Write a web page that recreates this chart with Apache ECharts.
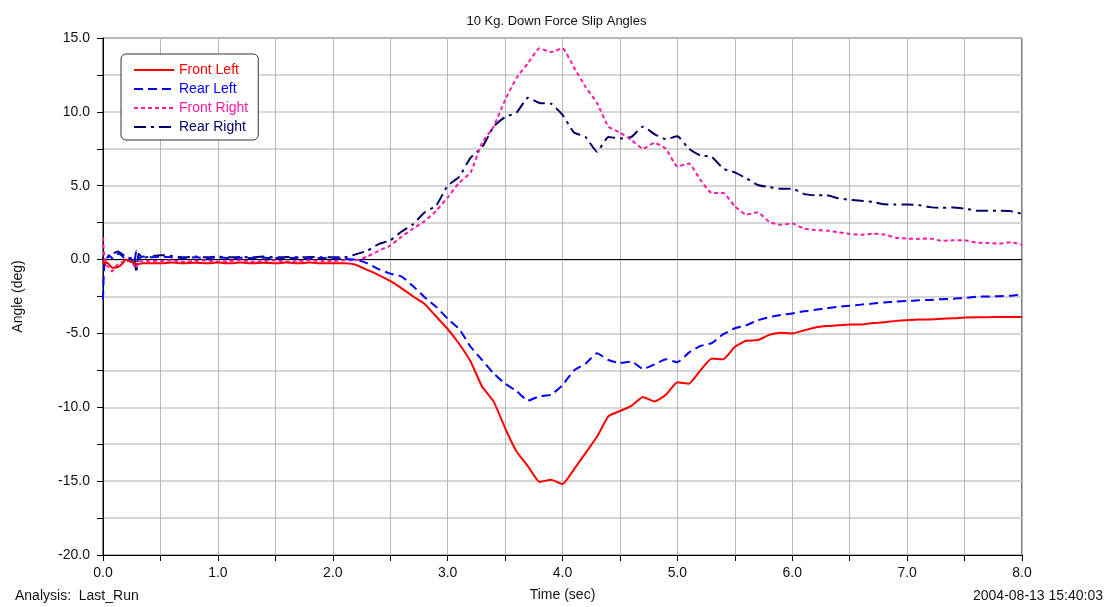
<!DOCTYPE html>
<html>
<head>
<meta charset="utf-8">
<script src="https://cdn.jsdelivr.net/npm/echarts@6/dist/echarts.min.js"></script>
<style>
html,body{margin:0;padding:0;background:#fff;}
#chart{width:1113px;height:607px;}
</style>
</head>
<body>
<div id="chart"></div>
<script>
var titleText = '10 Kg. Down Force Slip Angles';
var seriesNames = ['Front Left', 'Rear Left', 'Front Right', 'Rear Right'];

var time = [0, 0.01, 0.03, 0.05, 0.08, 0.1, 0.13, 0.16, 0.2, 0.24, 0.27, 0.29, 0.31, 0.35, 0.4,
  0.5, 0.6, 0.7, 0.8, 0.9, 1.0, 1.1, 1.2, 1.3, 1.4, 1.5, 1.6, 1.7, 1.8, 1.9,
  2.0, 2.1, 2.2, 2.3, 2.4, 2.5, 2.6, 2.7, 2.8, 2.9,
  3.0, 3.1, 3.2, 3.3, 3.4, 3.5, 3.6, 3.7, 3.8, 3.9,
  4.0, 4.1, 4.2, 4.3, 4.4, 4.5, 4.6, 4.7, 4.8, 4.9,
  5.0, 5.1, 5.2, 5.3, 5.4, 5.5, 5.6, 5.7, 5.8, 5.9,
  6.0, 6.1, 6.2, 6.3, 6.4, 6.5, 6.6, 6.7, 6.8, 6.9,
  7.0, 7.1, 7.2, 7.3, 7.4, 7.5, 7.6, 7.7, 7.8, 7.9, 8.0];

var frontLeft = [0, -0.3, -0.2, -0.3, -0.55, -0.55, -0.5, -0.35, 0.0, -0.15, -0.2, -0.3, -0.3, -0.25, -0.25,
  -0.25, -0.2, -0.25, -0.22, -0.25, -0.2, -0.25, -0.2, -0.25, -0.22, -0.25, -0.2, -0.25, -0.2, -0.25,
  -0.25, -0.25, -0.35, -0.7, -1.05, -1.45, -1.95, -2.5, -3.0, -3.85,
  -4.7, -5.7, -6.9, -8.6, -9.6, -11.4, -13.0, -14.0, -15.05, -14.9,
  -15.2, -14.2, -13.1, -12.0, -10.6, -10.25, -9.9, -9.3, -9.6, -9.15,
  -8.3, -8.4, -7.5, -6.7, -6.75, -5.9, -5.5, -5.45, -5.1, -4.95,
  -5.0, -4.8, -4.6, -4.5, -4.45, -4.4, -4.4, -4.3, -4.25, -4.15,
  -4.1, -4.05, -4.05, -4.0, -3.98, -3.92, -3.9, -3.9, -3.88, -3.88, -3.88];

var rearLeft = [-2.7, -0.5, 0.0, 0.3, 0.1, 0.3, 0.4, 0.3, 0.0, 0.1, -0.3, 0.6, 0.1, 0.2, 0.15,
  0.2, 0.15, 0.1, 0.15, 0.1, 0.15, 0.1, 0.12, 0.1, 0.12, 0.1, 0.1, 0.12, 0.1, 0.1,
  0.1, 0.05, 0.0, -0.25, -0.65, -0.95, -1.15, -1.8, -2.55, -3.2,
  -4.0, -4.7, -5.9, -6.8, -7.7, -8.4, -8.9, -9.55, -9.25, -9.15,
  -8.5, -7.5, -7.05, -6.35, -6.8, -7.0, -6.9, -7.4, -7.1, -6.75,
  -6.95, -6.3, -5.85, -5.65, -5.05, -4.65, -4.45, -4.1, -3.9, -3.75,
  -3.65, -3.5, -3.4, -3.3, -3.2, -3.12, -3.05, -2.98, -2.9, -2.85,
  -2.8, -2.76, -2.73, -2.68, -2.65, -2.6, -2.52, -2.5, -2.48, -2.45, -2.37];

var frontRight = [1.5, 0.3, -0.4, -0.5, -0.8, -0.6, -0.3, -0.2, -0.1, -0.1, -0.4, -0.6, -0.1, -0.15, -0.1,
  -0.1, -0.05, -0.15, -0.1, -0.05, -0.15, -0.1, -0.05, -0.15, -0.1, -0.05, -0.15, -0.1, -0.05, -0.1,
  -0.1, -0.05, -0.05, 0.2, 0.6, 0.95, 1.55, 2.1, 2.6, 3.3,
  4.2, 5.2, 5.9, 7.9, 9.0, 10.8, 12.3, 13.3, 14.3, 14.05,
  14.3, 13.0, 11.7, 10.6, 9.0, 8.6, 8.1, 7.5, 7.9, 7.5,
  6.3, 6.5, 5.4, 4.5, 4.5, 3.6, 3.05, 3.2, 2.55, 2.35,
  2.45, 2.1, 2.0, 1.96, 1.85, 1.74, 1.68, 1.75, 1.7, 1.48,
  1.42, 1.4, 1.43, 1.27, 1.3, 1.3, 1.15, 1.12, 1.08, 1.17, 1.02];

var rearRight = [0.2, -0.4, -0.1, 0.2, 0.3, 0.45, 0.55, 0.4, 0.2, 0.1, 0.2, -0.9, 0.4, 0.1, 0.2,
  0.3, 0.25, 0.15, 0.2, 0.15, 0.2, 0.15, 0.18, 0.15, 0.2, 0.15, 0.18, 0.15, 0.18, 0.15,
  0.15, 0.15, 0.35, 0.6, 1.05, 1.3, 1.9, 2.4, 3.2, 3.65,
  5.0, 5.6, 6.9, 7.6, 9.0, 9.65, 9.95, 10.95, 10.6, 10.55,
  9.8, 8.6, 8.3, 7.3, 8.3, 8.2, 8.3, 9.0, 8.5, 8.15,
  8.35, 7.5, 7.05, 6.95, 6.15, 5.9, 5.5, 5.05, 4.9, 4.8,
  4.8, 4.45, 4.35, 4.35, 4.15, 4.05, 3.98, 3.9, 3.75, 3.72,
  3.72, 3.7, 3.55, 3.5, 3.52, 3.45, 3.32, 3.3, 3.3, 3.28, 3.1];

var seriesColors = ['#ff0000', '#0000ff', '#ff1aa3', '#000066'];
var dashTypes = ['solid', [9, 5], [4, 3], [12, 5, 3, 5]];
var seriesValues = [frontLeft, rearLeft, frontRight, rearRight];

function pairs(vals) { return time.map(function (t, i) { return [t, vals[i]]; }); }

var FONT = 'Liberation Sans, Arial, sans-serif';
var chart = echarts.init(document.getElementById('chart'), null, {renderer: 'canvas'});

var series = seriesNames.map(function (name, k) {
  var s = {
    name: name,
    type: 'line',
    data: pairs(seriesValues[k]),
    showSymbol: false,
    symbol: 'none',
    smooth: 0.15,
    animation: false,
    lineStyle: {color: seriesColors[k], width: 2, type: dashTypes[k]},
    itemStyle: {color: seriesColors[k]},
    z: 10 - k
  };
  if (k === 0) {
    s.markLine = {
      silent: true, symbol: 'none', label: {show: false}, animation: false,
      lineStyle: {color: '#000', width: 1, type: 'solid'},
      data: [{yAxis: 0}]
    };
  }
  return s;
});

chart.setOption({
  backgroundColor: '#fff',
  animation: false,
  title: {
    text: titleText, left: 'center', top: 10,
    textStyle: {fontFamily: FONT, fontSize: 13, fontWeight: 'normal', color: '#111'}
  },
  legend: {
    orient: 'vertical', left: 121, top: 54,
    itemWidth: 40, itemHeight: 14, itemGap: 5,
    padding: [9, 10, 6, 12],
    backgroundColor: '#fff', borderColor: '#333', borderWidth: 1, borderRadius: 5,
    textStyle: {fontFamily: FONT, fontSize: 14},
    itemStyle: {opacity: 0},
    data: seriesNames.map(function (n, k) {
      return {name: n, textStyle: {color: seriesColors[k]}};
    })
  },
  grid: {
    left: 103, right: 91, top: 38, bottom: 49,
    show: true, borderColor: '#000', borderWidth: 1, backgroundColor: '#fff'
  },
  xAxis: {
    type: 'value', min: 0, max: 8, interval: 0.5,
    name: 'Time (sec)', nameLocation: 'middle', nameGap: 33,
    nameTextStyle: {fontFamily: FONT, fontSize: 14, color: '#111'},
    axisLine: {onZero: false, lineStyle: {color: '#000', width: 1}},
    axisTick: {show: true, length: 6, lineStyle: {color: '#000'}},
    axisLabel: {
      margin: 11, fontFamily: FONT, fontSize: 14, color: '#111',
      formatter: function (v) { return Math.abs(v - Math.round(v)) < 1e-6 ? v.toFixed(1) : ''; }
    },
    splitLine: {show: true, lineStyle: {color: '#b8b8b8', width: 1}}
  },
  yAxis: {
    type: 'value', min: -20, max: 15, interval: 2.5,
    name: 'Angle (deg)', nameLocation: 'middle', nameGap: 78, nameRotate: 90,
    nameTextStyle: {fontFamily: FONT, fontSize: 14, color: '#111'},
    axisLine: {show: true, onZero: false, lineStyle: {color: '#000', width: 1}},
    axisTick: {show: true, length: 6, lineStyle: {color: '#000'}},
    axisLabel: {
      margin: 13, fontFamily: FONT, fontSize: 14, color: '#111',
      formatter: function (v) { return Math.abs(v / 5 - Math.round(v / 5)) < 1e-6 ? v.toFixed(1) : ''; }
    },
    splitLine: {show: true, lineStyle: {color: '#c8c8c8', width: 1.5}}
  },
  graphic: [
    {type: 'text', left: 15, top: 589, style: {text: 'Analysis:  Last_Run', font: '14px ' + FONT, fill: '#111'}},
    {type: 'text', right: 10, top: 589, style: {text: '2004-08-13 15:40:03', font: '14px ' + FONT, fill: '#111'}}
  ],
  series: series
});
</script>
</body>
</html>
